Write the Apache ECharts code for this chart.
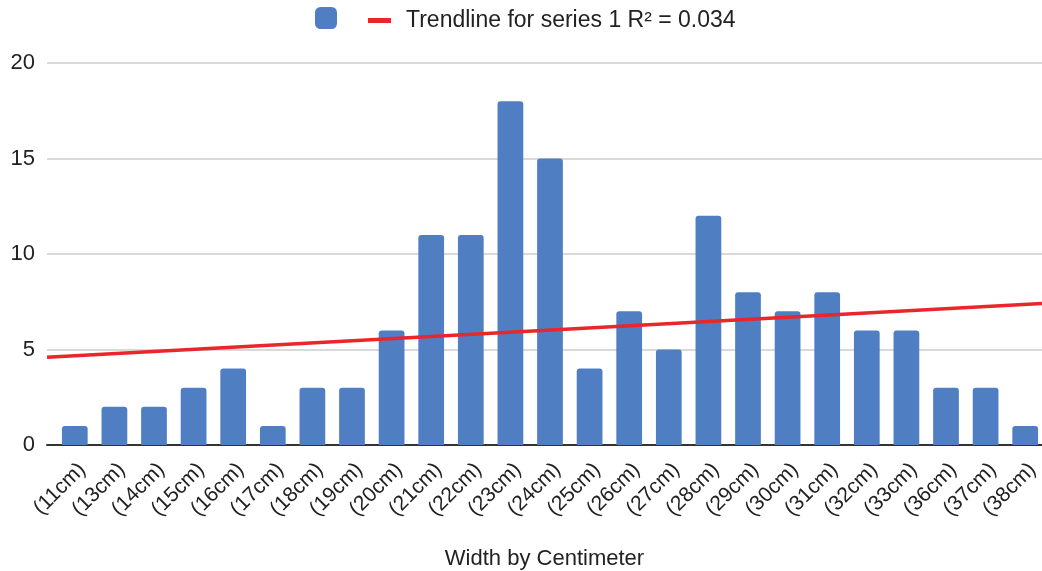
<!DOCTYPE html>
<html>
<head>
<meta charset="utf-8">
<script src="https://cdn.jsdelivr.net/npm/echarts@6/dist/echarts.min.js"></script>
<style>
  html, body { margin: 0; padding: 0; background: #fff; }
  #chart { width: 1042px; height: 571px; }
</style>
</head>
<body>
<div id="chart"></div>
<script>
// Count of items by width
const categories = ['(11cm)', '(13cm)', '(14cm)', '(15cm)', '(16cm)', '(17cm)', '(18cm)', '(19cm)', '(20cm)',
  '(21cm)', '(22cm)', '(23cm)', '(24cm)', '(25cm)', '(26cm)', '(27cm)', '(28cm)', '(29cm)', '(30cm)',
  '(31cm)', '(32cm)', '(33cm)', '(36cm)', '(37cm)', '(38cm)'];
const counts = [1, 2, 2, 3, 4, 1, 3, 3, 6, 11, 11, 18, 15, 4, 7, 5, 12, 8, 7, 8, 6, 6, 3, 3, 1];
const yTicks = [0, 5, 10, 15, 20];
const xTitle = 'Width by Centimeter';

const BAR_COLOR = '#4f7ec3';
const TREND_COLOR = '#e8262b';
const FONT = 'Liberation Sans, Arial, sans-serif';

// Least-squares linear fit over category positions 1..n
function linearFit(ys) {
  const n = ys.length;
  const xs = ys.map((_, i) => i + 1);
  const mx = xs.reduce((a, b) => a + b, 0) / n;
  const my = ys.reduce((a, b) => a + b, 0) / n;
  let sxy = 0, sxx = 0, syy = 0;
  for (let i = 0; i < n; i++) {
    sxy += (xs[i] - mx) * (ys[i] - my);
    sxx += (xs[i] - mx) ** 2;
    syy += (ys[i] - my) ** 2;
  }
  const slope = sxy / sxx;
  return { slope, intercept: my - slope * mx, r2: (sxy * sxy) / (sxx * syy) };
}

const fit = linearFit(counts);
const xLo = 0.5, xHi = counts.length + 0.5;
const trendPoints = [[xLo, fit.intercept + fit.slope * xLo], [xHi, fit.intercept + fit.slope * xHi]];
const barName = ' ';
const trendName = 'Trendline for series 1 R\u00B2 = ' + fit.r2.toFixed(3);

const TOP = 63, BOTTOM = 126;

const chart = echarts.init(document.getElementById('chart'), null, { renderer: 'canvas' });
chart.setOption({
  animation: false,
  textStyle: { fontFamily: FONT },
  legend: [
    {
      left: 310, top: 2,
      itemWidth: 22, itemHeight: 22,
      icon: 'roundRect',
      data: [barName],
      textStyle: { fontSize: 1 }
    },
    {
      left: 363, top: 4,
      itemWidth: 23, itemHeight: 5,
      icon: 'rect',
      data: [trendName],
      textStyle: { fontSize: 23, color: '#222', padding: [0, 0, 0, 10] }
    }
  ],
  grid: [
    // frame: gridlines, value labels, baseline and trendline
    { left: 47, right: 0, top: TOP, bottom: BOTTOM, containLabel: false, outerBoundsMode: 'none' },
    // bars and category labels
    { left: 55, right: -3, top: TOP, bottom: BOTTOM, containLabel: false, outerBoundsMode: 'none' }
  ],
  xAxis: [
    {
      gridIndex: 0,
      type: 'value',
      min: xLo,
      max: xHi,
      axisLine: { show: true, onZero: false, lineStyle: { color: '#333', width: 2 } },
      axisTick: { show: false },
      axisLabel: { show: false },
      splitLine: { show: false },
      name: xTitle,
      nameLocation: 'middle',
      nameGap: 103,
      nameTextStyle: { fontSize: 22, color: '#222' }
    },
    {
      gridIndex: 1,
      type: 'category',
      data: categories,
      axisLine: { show: false },
      axisTick: { show: false },
      axisLabel: { rotate: 45, fontSize: 21, color: '#222', interval: 0, margin: 14, verticalAlign: 'top' }
    }
  ],
  yAxis: [
    {
      gridIndex: 0,
      type: 'value',
      min: yTicks[0],
      max: yTicks[yTicks.length - 1],
      interval: 5,
      axisLine: { show: false },
      axisTick: { show: false },
      axisLabel: { fontSize: 22, color: '#222', margin: 12 },
      splitLine: { lineStyle: { color: '#cccccc', width: 1.5 } }
    },
    {
      gridIndex: 1,
      type: 'value',
      min: yTicks[0],
      max: yTicks[yTicks.length - 1],
      interval: 5,
      show: false,
      splitLine: { show: false }
    }
  ],
  series: [
    {
      name: barName,
      type: 'bar',
      xAxisIndex: 1,
      yAxisIndex: 1,
      data: counts,
      barCategoryGap: '35%',
      itemStyle: { color: BAR_COLOR, borderRadius: [3, 3, 0, 0] },
      z: 2
    },
    {
      name: trendName,
      type: 'line',
      xAxisIndex: 0,
      yAxisIndex: 0,
      data: trendPoints,
      symbol: 'none',
      lineStyle: { color: TREND_COLOR, width: 3.5 },
      itemStyle: { color: TREND_COLOR },
      z: 5
    }
  ]
});
</script>
</body>
</html>
